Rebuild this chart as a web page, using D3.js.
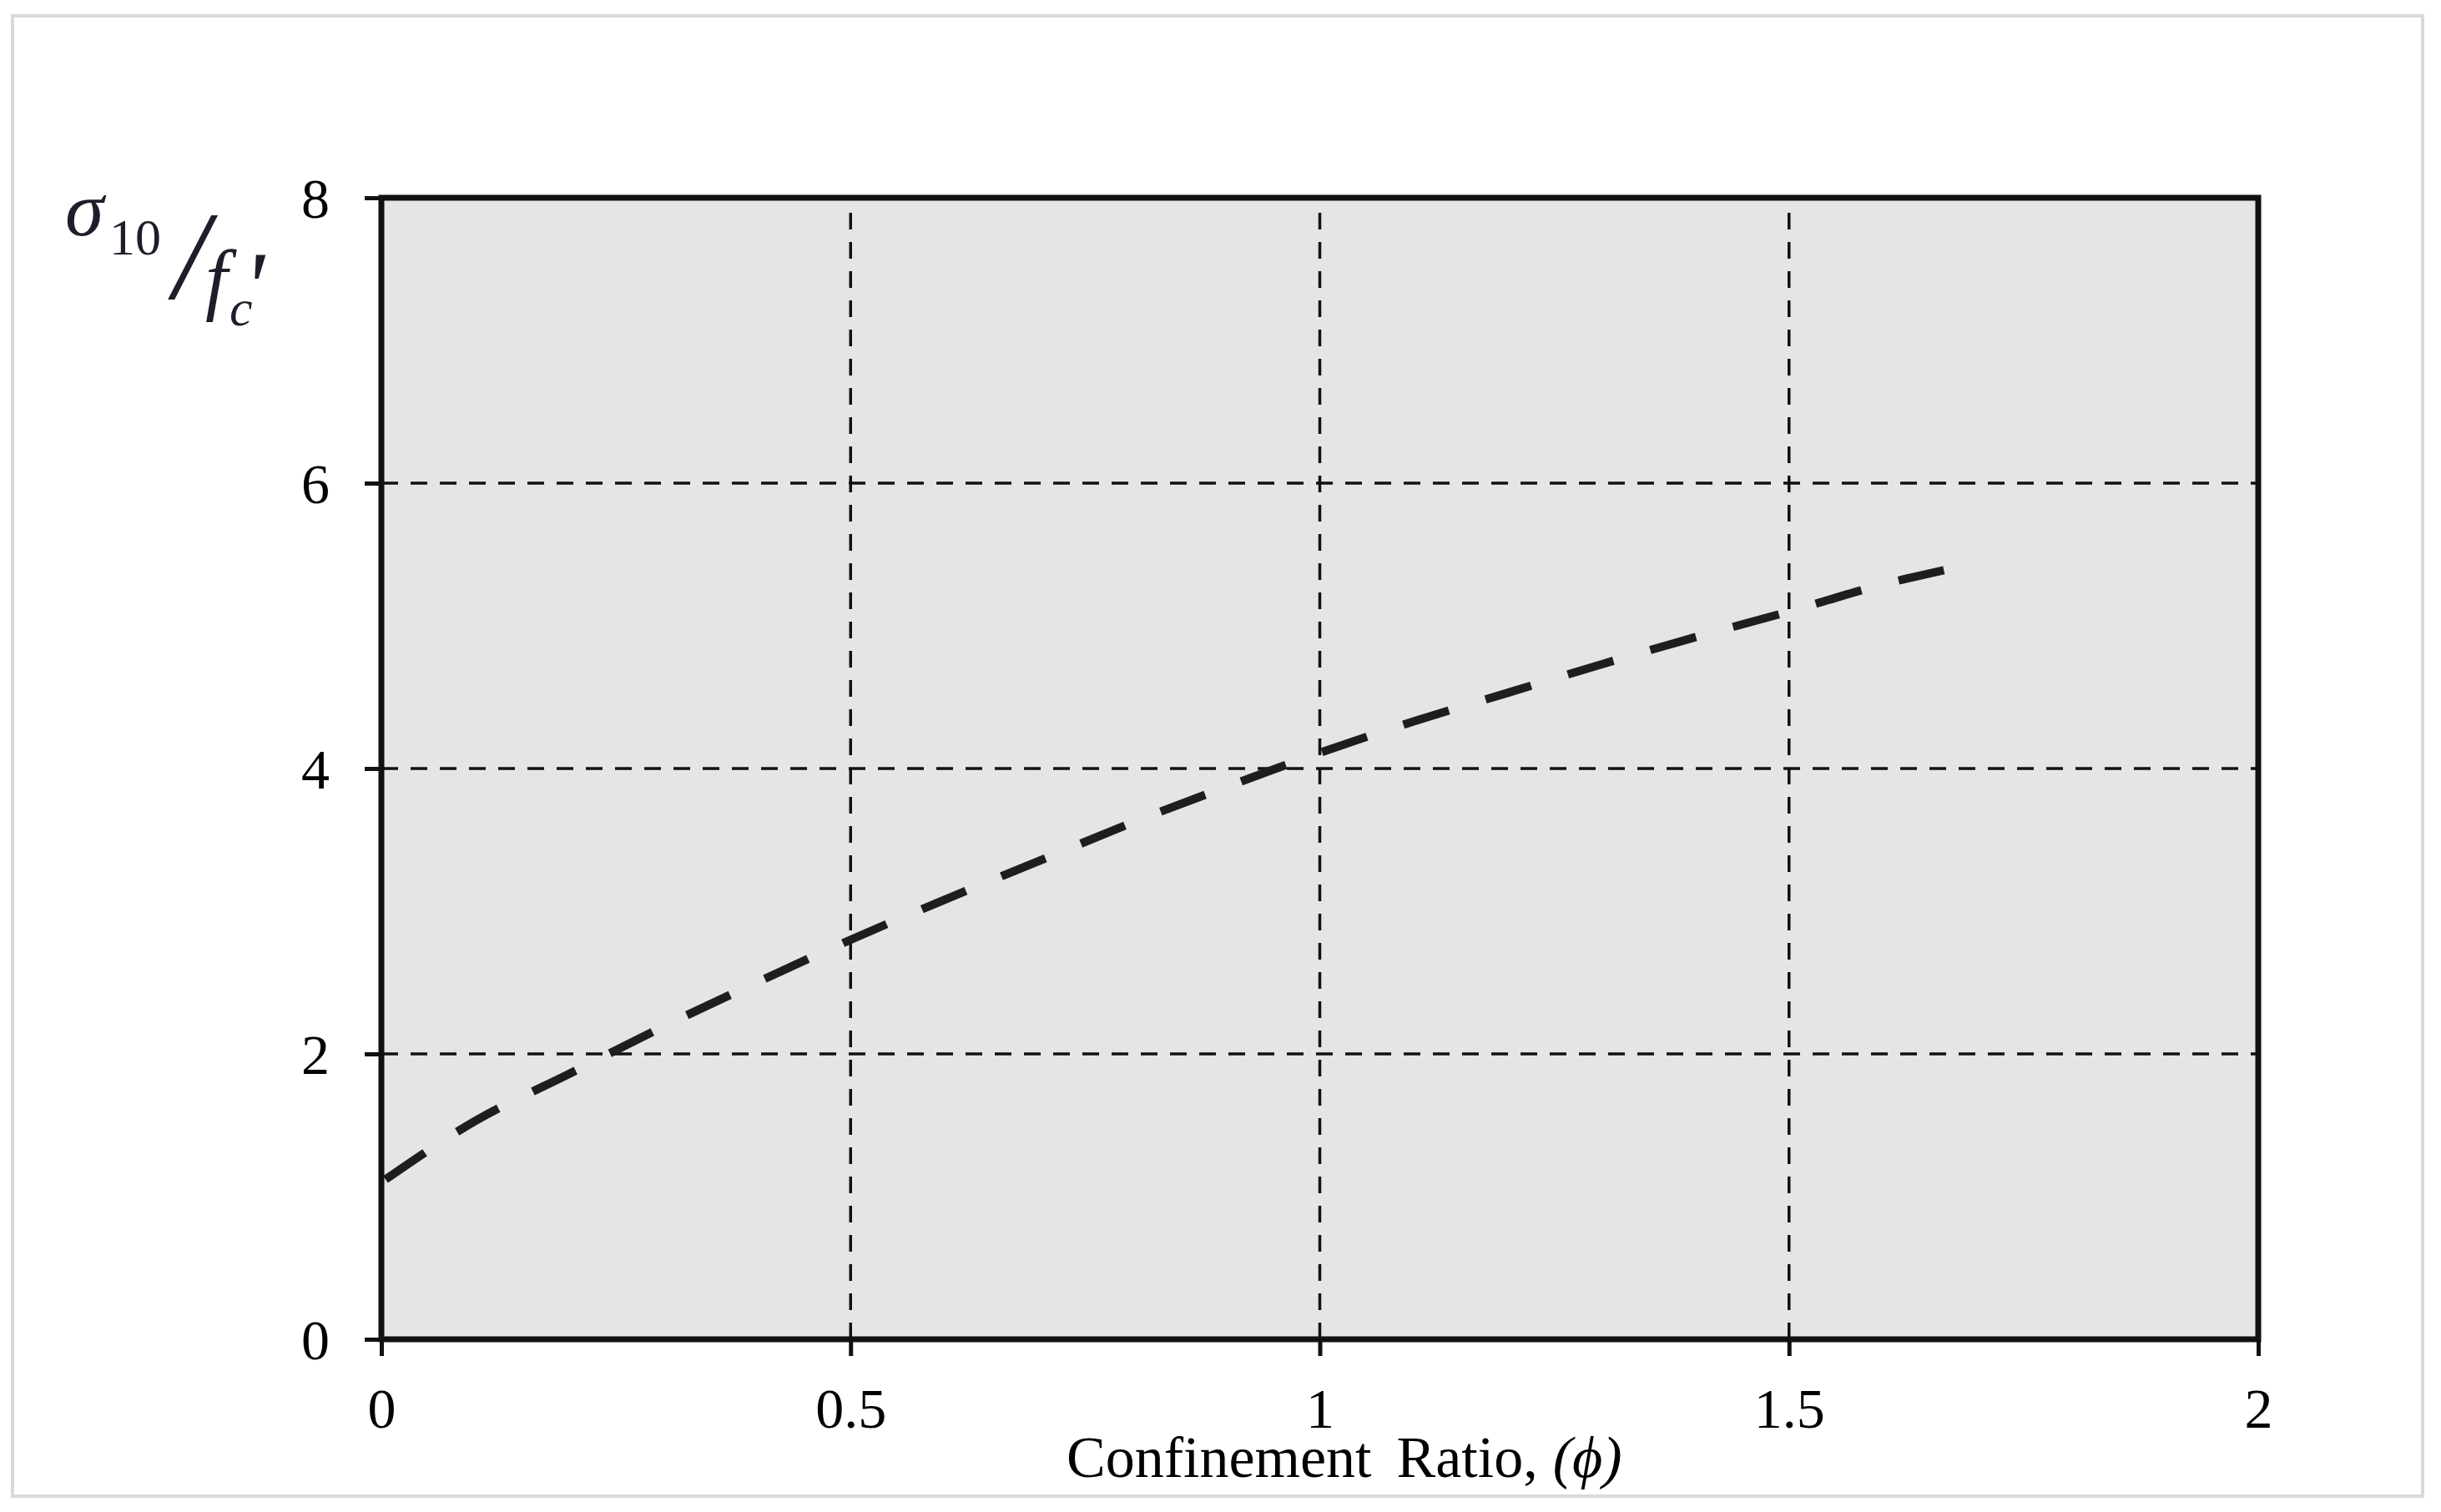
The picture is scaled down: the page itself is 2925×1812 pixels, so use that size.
<!DOCTYPE html>
<html><head><meta charset="utf-8">
<script src="https://cdn.jsdelivr.net/npm/d3@7/dist/d3.min.js"></script>
<style>
body{margin:0;background:#fff;}
svg text{font-family:"Liberation Serif","Times New Roman",serif;}
</style>
</head><body>
<svg id="chart" width="2925" height="1812"></svg>
<script>
// ---- data ----
const confinementRatio = [0, 0.1, 0.2, 0.3, 0.4, 0.5, 0.6, 0.7, 0.8, 0.9, 1.0, 1.1, 1.2, 1.3, 1.4, 1.5, 1.6, 1.665];
const stressRatio      = [1.10, 1.53, 1.86, 2.19, 2.50, 2.80, 3.08, 3.35, 3.62, 3.87, 4.11, 4.33, 4.53, 4.73, 4.92, 5.10, 5.29, 5.39];
const xTickValues = [0, 0.5, 1, 1.5, 2];
const xTickLabels = ["0", "0.5", "1", "1.5", "2"];
const yTickValues = [0, 2, 4, 6, 8];
const yTickLabels = ["0", "2", "4", "6", "8"];
const xGridValues = [0.5, 1, 1.5];
const yGridValues = [2, 4, 6];
const xAxisTitle = ["Confinement", "Ratio,", "(ϕ)"];

// ---- layout ----
const svg = d3.select("#chart");
const L = 457, R = 2706, T = 237, B = 1605;
const x = d3.scaleLinear().domain([0, 2]).range([L, R]);
const y = d3.scaleLinear().domain([0, 8]).range([B, T]);

// outer border
svg.append("rect").attr("x", 15).attr("y", 19).attr("width", 2888).attr("height", 1774)
  .attr("fill", "#fff").attr("stroke", "#d9d9d9").attr("stroke-width", 4);

// plot background
svg.append("rect").attr("x", L).attr("y", T).attr("width", R - L).attr("height", B - T)
  .attr("fill", "#e5e5e5");

// grid lines
const grid = svg.append("g").attr("stroke", "#111").attr("stroke-width", 3.5).attr("stroke-dasharray", "20,15");
grid.selectAll("line.v").data(xGridValues).join("line").attr("class", "v")
  .attr("x1", d => x(d)).attr("x2", d => x(d)).attr("y1", B).attr("y2", T);
grid.selectAll("line.h").data(yGridValues).join("line").attr("class", "h")
  .attr("y1", d => y(d)).attr("y2", d => y(d)).attr("x1", L).attr("x2", R);

// data line
const pts = confinementRatio.map((v, i) => [v, stressRatio[i]]);
svg.append("path").datum(pts)
  .attr("d", d3.line().x(d => x(d[0])).y(d => y(d[1])).curve(d3.curveMonotoneX))
  .attr("fill", "none").attr("stroke", "#1e1e1e").attr("stroke-width", 10)
  .attr("stroke-dasharray", "57,46").attr("stroke-dashoffset", -6).attr("stroke-linecap", "butt");

// axes with outward ticks
const xAxis = d3.axisBottom(x).tickValues(xTickValues).tickFormat((d, i) => xTickLabels[i]).tickSize(20).tickPadding(38);
const yAxis = d3.axisLeft(y).tickValues(yTickValues).tickFormat((d, i) => yTickLabels[i]).tickSize(20).tickPadding(42);
const gx = svg.append("g").attr("transform", `translate(0,${B})`).call(xAxis);
const gy = svg.append("g").attr("transform", `translate(${L},0)`).call(yAxis);
[gx, gy].forEach(g => {
  g.select(".domain").remove();
  g.selectAll(".tick line").attr("stroke", "#111").attr("stroke-width", 5);
  g.selectAll(".tick text").attr("fill", "#000").style("font-size", "68px")
    .style("font-family", '"Liberation Serif","Times New Roman",serif');
});
gy.selectAll(".tick text").attr("dy", "0.34em");

// plot frame
svg.append("rect").attr("x", L).attr("y", T).attr("width", R - L).attr("height", B - T)
  .attr("fill", "none").attr("stroke", "#111").attr("stroke-width", 7);

// x axis title
const xt = svg.append("text").attr("x", 1278).attr("y", 1770).style("font-size", "70px").attr("fill", "#000");
xt.append("tspan").text(xAxisTitle[0]);
xt.append("tspan").attr("dx", 30).text(xAxisTitle[1]);
xt.append("tspan").attr("dx", 18).style("font-style", "italic").text(xAxisTitle[2]);

// y axis title: sigma_10 / f'_c  (one text element, positioned pieces)
const yl = svg.append("text").attr("fill", "#1e1e2a");
yl.append("tspan").attr("x", 78).attr("y", 282).style("font-size", "94px").style("font-style", "italic").text("σ");
yl.append("tspan").attr("x", 131).attr("y", 305).style("font-size", "62px").text("10");
yl.append("tspan").attr("x", 208).attr("y", 358).style("font-size", "150px").style("font-style", "italic").text("/");
yl.append("tspan").attr("x", 246).attr("y", 366).style("font-size", "96px").style("font-style", "italic").text("f");
yl.append("tspan").attr("x", 275).attr("y", 390).style("font-size", "62px").style("font-style", "italic").text("c");
yl.append("tspan").attr("x", 291).attr("y", 385).style("font-size", "120px").style("font-style", "italic").text("'");
</script>
</body></html>
